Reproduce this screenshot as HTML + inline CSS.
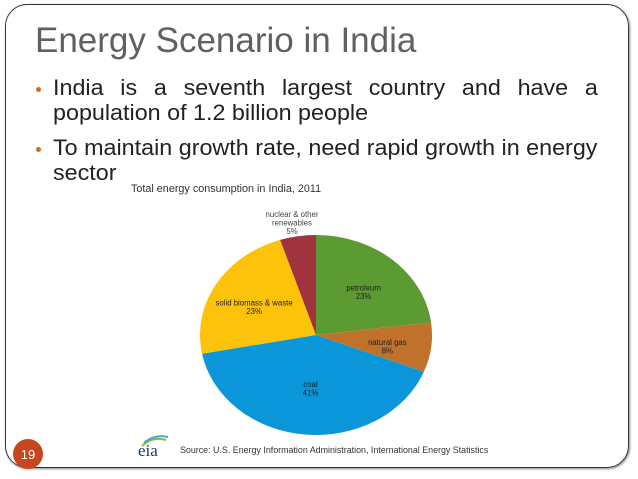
<!DOCTYPE html>
<html><head><meta charset="utf-8"><style>
body{margin:0;width:638px;height:479px;background:#fff;overflow:hidden;font-family:"Liberation Sans",sans-serif;position:relative}
.frame{position:absolute;left:5px;top:4px;width:624px;height:464px;border:1.5px solid #333;border-radius:22px;box-sizing:border-box;box-shadow:1px 1px 2px #888}
.title{position:absolute;left:35px;top:21px;font-size:35px;color:#606060;white-space:nowrap}
.b{position:absolute;left:53px;font-size:22px;color:#222;white-space:nowrap;transform-origin:0 0;transform:scaleX(1.06)}
.dot{position:absolute;left:36px;width:5px;height:5px;border-radius:50%;background:#d2691e}
</style></head><body>
<div class="frame"></div>
<div class="title">Energy Scenario in India</div>
<div class="dot" style="top:87px"></div>
<div class="b" style="top:75px;width:514px;text-align:justify;text-align-last:justify">India is a seventh largest country and have a</div>
<div class="b" style="top:100px">population of 1.2 billion people</div>
<div class="dot" style="top:147px"></div>
<div class="b" style="top:135px">To maintain growth rate, need rapid growth in energy</div>
<div class="b" style="top:160px">sector</div>
<svg width="638" height="479" style="position:absolute;left:0;top:0" id="chart">
<text x="131" y="192" font-size="10.8" fill="#333" font-family="Liberation Sans">Total energy consumption in India, 2011</text>
<circle cx="28" cy="454" r="15" fill="#c8461b"/>
<text x="28" y="459" font-size="13" fill="#fff" text-anchor="middle" font-family="Liberation Sans">19</text>
<path d="M142 446 Q152 436 166 440" stroke="#7fbf3f" stroke-width="2" fill="none"/>
<path d="M144 443 Q154 434 168 437" stroke="#4aa3d8" stroke-width="2" fill="none"/>
<text x="138" y="456" font-size="17" fill="#1a3a6a" font-family="Liberation Serif">eia</text>
<text x="180" y="453" font-size="8.9" fill="#333" font-family="Liberation Sans">Source: U.S. Energy Information Administration, International Energy Statistics</text>
<g id="pie"></g>
</svg>
<script>
const categories=["petroleum","natural gas","coal","solid biomass & waste","nuclear & other renewables"];
const values=[23,8,41,23,5];
const colors=["#5c9a32","#c0712a","#0a96d8","#fdc20a","#a1333f"];
const cx=316,cy=335,rx=116,ry=100;
const g=document.getElementById('pie');
const NS="http://www.w3.org/2000/svg";
const total=values.reduce((a,b)=>a+b,0);
function pt(f,s){const a=f*2*Math.PI;return [cx+s*rx*Math.sin(a),cy-s*ry*Math.cos(a)];}
let acc=0;
values.forEach((v,i)=>{
 const f0=acc/total,f1=(acc+v)/total;acc+=v;
 const p0=pt(f0,1),p1=pt(f1,1);
 const p=document.createElementNS(NS,'path');
 p.setAttribute('d',`M${cx},${cy}L${p0[0]},${p0[1]}A${rx},${ry} 0 ${f1-f0>0.5?1:0} 1 ${p1[0]},${p1[1]}Z`);
 p.setAttribute('fill',colors[i]);
 
 
 g.appendChild(p);
 const mid=(f0+f1)/2;
 const outside=v<6;
 const big=v>30;
 const lp=outside?pt(mid,1.0):pt(mid,big?0.5:0.62);
 const lines=outside?["nuclear & other","renewables",v+"%"]:[categories[i],v+"%"];
 const y0=outside?lp[1]-19:lp[1]+2;
 lines.forEach((l,k)=>{
  const t=document.createElementNS(NS,'text');
  t.setAttribute('x',outside?cx-24:lp[0]);t.setAttribute('y',y0+k*8.5);
  t.setAttribute('font-size','7.8');t.setAttribute('text-anchor','middle');
  t.setAttribute('fill',outside?'#444':'#222');t.setAttribute('font-family','Liberation Sans');
  t.textContent=l;
  
  
  g.appendChild(t);
 });
});
</script>
</body></html>
